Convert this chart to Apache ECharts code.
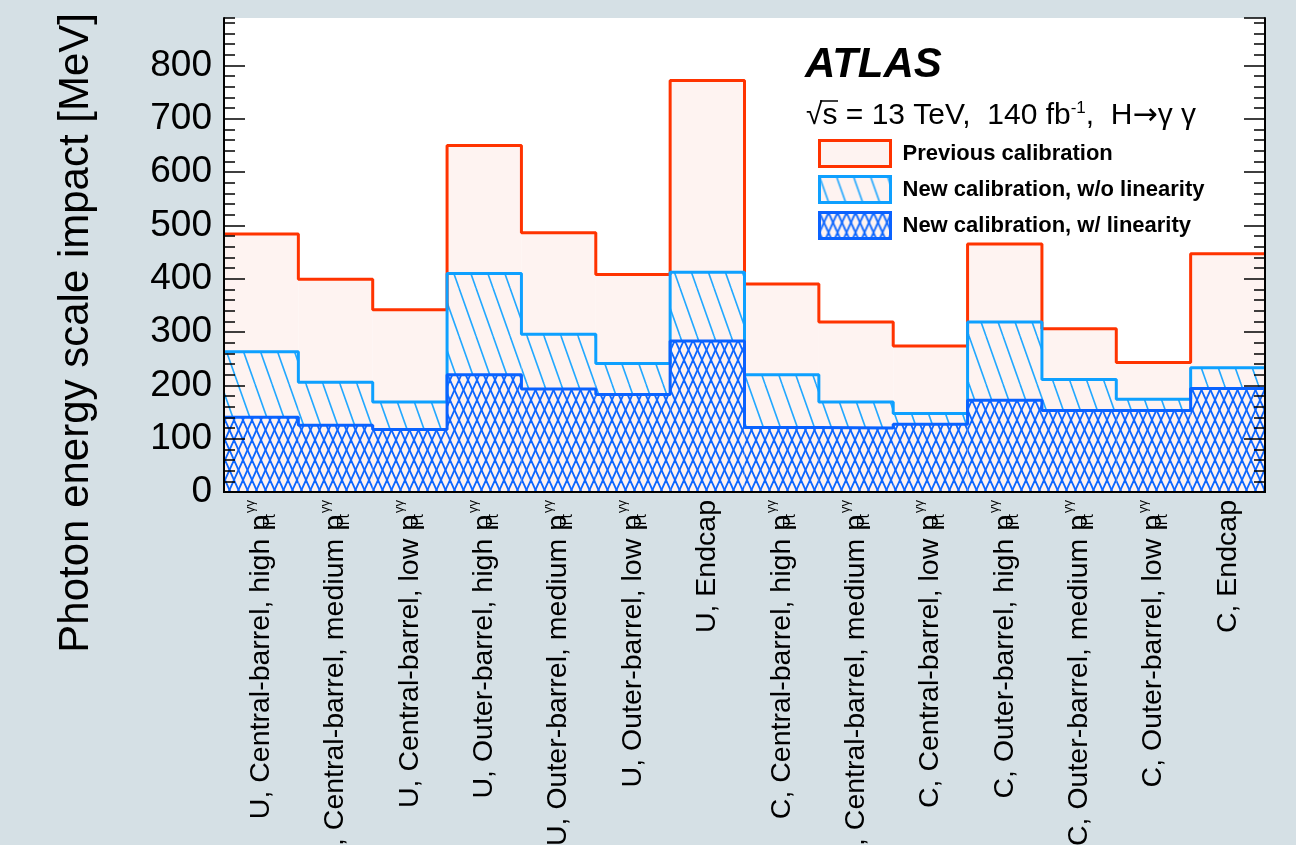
<!DOCTYPE html>
<html>
<head>
<meta charset="utf-8">
<script src="https://cdn.jsdelivr.net/npm/echarts@6/dist/echarts.min.js"></script>
<style>
  html, body { margin: 0; padding: 0; background: #d5e0e5; }
  #chart { width: 1296px; height: 845px; }
</style>
</head>
<body>
<div id="chart"></div>
<script>
// Category bins (U = unconverted, C = converted photons)
const categories = [
  'U, Central-barrel, high pT',
  'U, Central-barrel, medium pT',
  'U, Central-barrel, low pT',
  'U, Outer-barrel, high pT',
  'U, Outer-barrel, medium pT',
  'U, Outer-barrel, low pT',
  'U, Endcap',
  'C, Central-barrel, high pT',
  'C, Central-barrel, medium pT',
  'C, Central-barrel, low pT',
  'C, Outer-barrel, high pT',
  'C, Outer-barrel, medium pT',
  'C, Outer-barrel, low pT',
  'C, Endcap'
];

// Photon energy scale impact [MeV]
const previousCalib = [484, 399, 342, 650, 486, 408, 772, 390, 319, 274, 465, 306, 243, 447];
const newCalibNoLin = [263, 206, 169, 410, 296, 241, 412, 220, 169, 147, 319, 211, 174, 233];
const newCalibLin   = [140, 125, 117, 220, 193, 183, 283, 121, 120, 127, 172, 153, 153, 194];

const seriesNames = [
  'Previous calibration',
  'New calibration, w/o linearity',
  'New calibration, w/ linearity'
];

const yTicks = { min: 0, max: 889, major: 100, minor: 20 };

const FONT = "'Liberation Sans', Arial, Helvetica, sans-serif";
const RED = '#ff3300';
const PINK = '#fef3f1';
const LIGHT = '#0ea0ff';
const DARK = '#0a62ff';

// Single-direction hatch tile ("\" lines)
function hatchTile() {
  const w = 17, h = 48;
  const c = document.createElement('canvas');
  c.width = w; c.height = h;
  const ctx = c.getContext('2d');
  ctx.fillStyle = PINK; ctx.fillRect(0, 0, w, h);
  ctx.strokeStyle = '#22a8ff'; ctx.lineWidth = 1.6;
  for (let k = -1; k <= 1; k++) {
    ctx.beginPath(); ctx.moveTo(k * w, 0); ctx.lineTo(k * w + w, h); ctx.stroke();
  }
  return c;
}

// Diamond cross-hatch tile
function crossTile() {
  const w = 9, h = 20;
  const c = document.createElement('canvas');
  c.width = w; c.height = h;
  const ctx = c.getContext('2d');
  ctx.fillStyle = PINK; ctx.fillRect(0, 0, w, h);
  ctx.strokeStyle = '#0d66ff'; ctx.lineWidth = 1.8;
  for (let k = -1; k <= 1; k++) {
    ctx.beginPath(); ctx.moveTo(k * w, 0); ctx.lineTo(k * w + w, h); ctx.stroke();
    ctx.beginPath(); ctx.moveTo(k * w + w, 0); ctx.lineTo(k * w, h); ctx.stroke();
  }
  return c;
}

const hatchFill = { image: hatchTile(), repeat: 'repeat' };
const crossFill = { image: crossTile(), repeat: 'repeat' };

// Histogram outline: one point per bin edge, stepping at the next edge
function stepPoints(vals) {
  const pts = vals.map((v, i) => [i, v]);
  pts.push([vals.length, vals[vals.length - 1]]);
  return pts;
}

function labelFormatter(value) {
  if (value.endsWith(' pT')) {
    return '{m|' + value.slice(0, -1) + '}{sub|Tt}{sup|γγ}';
  }
  return '{m|' + value + '}';
}

const axisBlack = { color: '#000', width: 2 };

const chart = echarts.init(document.getElementById('chart'), null, { renderer: 'canvas' });

chart.setOption({
  animation: false,
  backgroundColor: '#d5e0e5',
  textStyle: { fontFamily: FONT },
  grid: {
    left: 224, right: 31, top: 18, bottom: 353,
    outerBoundsMode: 'none', containLabel: false,
    show: true, backgroundColor: '#ffffff', borderWidth: 0
  },
  legend: {
    orient: 'vertical',
    left: 813, top: 134, padding: 5,
    itemWidth: 71, itemHeight: 26, itemGap: 7,
    icon: 'rect',
    selectedMode: false,
    textStyle: { fontFamily: FONT, fontSize: 22, fontWeight: 'bold', color: '#000', padding: [0, 0, 0, 7] },
    data: [
      { name: seriesNames[0], itemStyle: { color: PINK, borderColor: RED, borderWidth: 3 } },
      { name: seriesNames[1], itemStyle: { color: hatchFill, borderColor: LIGHT, borderWidth: 3 } },
      { name: seriesNames[2], itemStyle: { color: crossFill, borderColor: DARK, borderWidth: 3 } }
    ]
  },
  xAxis: [
    {
      type: 'category', data: categories, position: 'bottom', z: 10,
      axisLine: { lineStyle: axisBlack },
      axisTick: { inside: true, length: 20, lineStyle: { color: '#000', width: 1.5 } },
      axisLabel: {
        rotate: 90, interval: 0, margin: 8, color: '#000',
        formatter: labelFormatter,
        rich: {
          m: { fontFamily: FONT, fontSize: 28.5, lineHeight: 34, color: '#000' },
          sub: { fontFamily: FONT, fontSize: 16, lineHeight: 16, verticalAlign: 'bottom', width: 1, color: '#000' },
          sup: { fontFamily: FONT, fontSize: 13, lineHeight: 13, verticalAlign: 'top', padding: [0, 0, 0, 1], color: '#000' }
        }
      },
      splitLine: { show: false }
    },
    {
      type: 'category', data: categories, position: 'top', z: 10,
      axisLine: { lineStyle: axisBlack },
      axisTick: { inside: true, length: 22, lineStyle: { color: '#000', width: 1.5 } },
      axisLabel: { show: false },
      splitLine: { show: false }
    },
    {
      type: 'value', min: 0, max: categories.length, show: false
    }
  ],
  yAxis: [
    {
      type: 'value', min: yTicks.min, max: yTicks.max, interval: yTicks.major, position: 'left', z: 10,
      axisLine: { show: true, lineStyle: axisBlack },
      axisTick: { show: true, inside: true, length: 21, lineStyle: { color: '#000', width: 1.5 } },
      axisLabel: { fontFamily: FONT, fontSize: 37, color: '#000', margin: 12, showMaxLabel: false },
      splitLine: { show: false }
    },
    {
      type: 'value', min: yTicks.min, max: yTicks.max, interval: yTicks.minor, position: 'left', z: 10,
      axisLine: { show: false },
      axisTick: { show: true, inside: true, length: 11, lineStyle: { color: '#000', width: 1.5 } },
      axisLabel: { show: false },
      splitLine: { show: false }
    },
    {
      type: 'value', min: yTicks.min, max: yTicks.max, interval: yTicks.major, position: 'right', z: 10,
      axisLine: { show: true, lineStyle: axisBlack },
      axisTick: { show: true, inside: true, length: 21, lineStyle: { color: '#000', width: 1.5 } },
      axisLabel: { show: false },
      splitLine: { show: false }
    },
    {
      type: 'value', min: yTicks.min, max: yTicks.max, interval: yTicks.minor, position: 'right', z: 10,
      axisLine: { show: false },
      axisTick: { show: true, inside: true, length: 11, lineStyle: { color: '#000', width: 1.5 } },
      axisLabel: { show: false },
      splitLine: { show: false }
    }
  ],
  graphic: [
    {
      type: 'text', x: 76, y: 13, rotation: Math.PI / 2,
      style: {
        text: 'Photon energy scale impact [MeV]',
        font: '42px ' + FONT, fill: '#000',
        align: 'right', verticalAlign: 'middle'
      }
    },
    {
      type: 'text', x: 805, y: 65,
      style: {
        text: 'ATLAS', font: 'italic bold 42px ' + FONT, fill: '#000',
        align: 'left', verticalAlign: 'middle'
      }
    },
    {
      type: 'text', x: 806, y: 116,
      style: {
        text: '{a|√s = 13 TeV,  140 fb}{s|-1}{a|,  H}{ar|→}{a|γ γ}',
        fill: '#000', align: 'left', verticalAlign: 'middle',
        rich: {
          a: { fontFamily: FONT, fontSize: 30, lineHeight: 32, fill: '#000' },
          s: { fontFamily: FONT, fontSize: 17, lineHeight: 17, verticalAlign: 'top', fill: '#000' },
          ar: { fontFamily: "'DejaVu Sans', sans-serif", fontSize: 30, lineHeight: 32, fill: '#000' }
        }
      }
    },
    {
      // bar of the square root over "s"
      type: 'line', shape: { x1: 820, y1: 101, x2: 838, y2: 101 },
      style: { stroke: '#000', lineWidth: 1.5 }
    }
  ],
  series: [
    // Filled bins
    {
      name: seriesNames[0], type: 'bar', data: previousCalib, z: 1,
      xAxisIndex: 0, yAxisIndex: 0, barWidth: '100%', barGap: '-100%',
      itemStyle: { color: PINK }, silent: true
    },
    {
      name: seriesNames[1], type: 'bar', data: newCalibNoLin, z: 2,
      xAxisIndex: 0, yAxisIndex: 0, barWidth: '100%', barGap: '-100%',
      itemStyle: { color: hatchFill }, silent: true
    },
    {
      name: seriesNames[2], type: 'bar', data: newCalibLin, z: 3,
      xAxisIndex: 0, yAxisIndex: 0, barWidth: '100%', barGap: '-100%',
      itemStyle: { color: crossFill }, silent: true
    },
    // Histogram outlines
    {
      name: seriesNames[0], type: 'line', step: 'end', data: stepPoints(previousCalib), z: 4,
      xAxisIndex: 2, yAxisIndex: 0, showSymbol: false, silent: true,
      lineStyle: { color: RED, width: 3 }, itemStyle: { color: RED }
    },
    {
      name: seriesNames[1], type: 'line', step: 'end', data: stepPoints(newCalibNoLin), z: 5,
      xAxisIndex: 2, yAxisIndex: 0, showSymbol: false, silent: true,
      lineStyle: { color: LIGHT, width: 3 }, itemStyle: { color: LIGHT }
    },
    {
      name: seriesNames[2], type: 'line', step: 'end', data: stepPoints(newCalibLin), z: 6,
      xAxisIndex: 2, yAxisIndex: 0, showSymbol: false, silent: true,
      lineStyle: { color: DARK, width: 3 }, itemStyle: { color: DARK }
    }
  ]
});
</script>
</body>
</html>
